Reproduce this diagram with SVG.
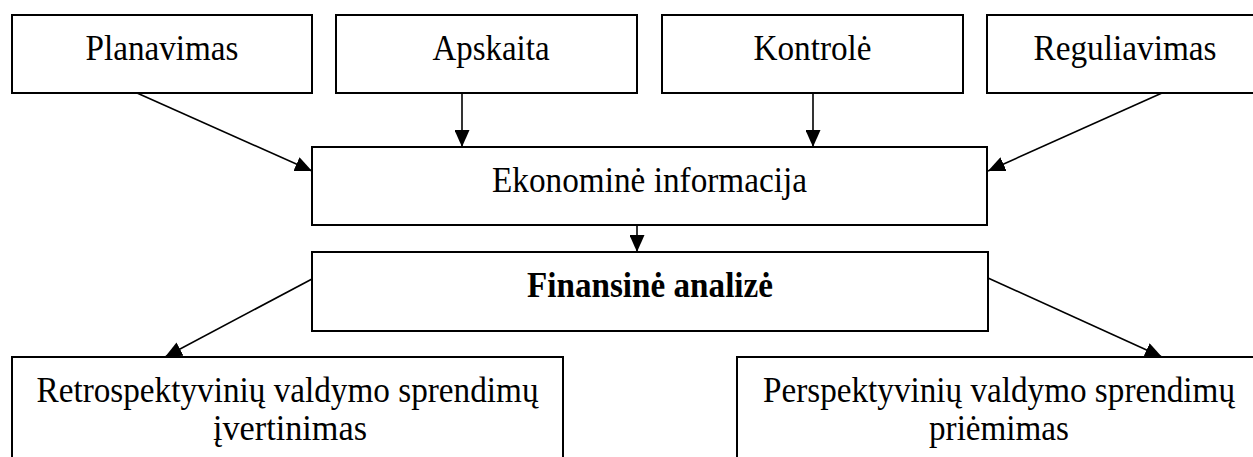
<svg xmlns="http://www.w3.org/2000/svg" width="1253" height="457" viewBox="0 0 1253 457">
<style>
.box{fill:#fff;stroke:#000;stroke-width:2}
.t{font-family:"Liberation Serif","Times New Roman",serif;font-size:36px;fill:#000;text-anchor:middle}
.b{font-weight:bold}
.c{stroke:#000;stroke-width:1.6;fill:none;marker-end:url(#ah)}
</style>
<defs>
<marker id="ah" markerUnits="userSpaceOnUse" markerWidth="17" markerHeight="15" refX="17" refY="7.5" orient="auto" viewBox="0 0 17 15">
<path d="M0,0 L17,7.5 L0,15 z" fill="#000"/>
</marker>
</defs>
<rect width="1253" height="457" fill="#fff"/>
<g id="connectors">
<line class="c" x1="137" y1="93" x2="312" y2="171"/>
<line class="c" x1="462" y1="93" x2="462" y2="147"/>
<line class="c" x1="813" y1="93" x2="813" y2="147"/>
<line class="c" x1="1162" y1="93" x2="988" y2="171"/>
<line class="c" x1="637" y1="225" x2="637" y2="252"/>
<line class="c" x1="312" y1="279" x2="165" y2="357"/>
<line class="c" x1="988" y1="278" x2="1162" y2="357"/>
</g>
<g id="planavimas">
<rect class="box" x="12" y="15" width="300" height="78"/>
<text class="t" x="162" y="60" textLength="153" lengthAdjust="spacingAndGlyphs">Planavimas</text>
</g>
<g id="apskaita">
<rect class="box" x="336" y="15" width="301" height="78"/>
<text class="t" x="491" y="60" textLength="117" lengthAdjust="spacingAndGlyphs">Apskaita</text>
</g>
<g id="kontrole">
<rect class="box" x="662" y="15" width="301" height="78"/>
<text class="t" x="812.5" y="60" textLength="118" lengthAdjust="spacingAndGlyphs">Kontrolė</text>
</g>
<g id="reguliavimas">
<rect class="box" x="987" y="15" width="280" height="78"/>
<text class="t" x="1125" y="60" textLength="183" lengthAdjust="spacingAndGlyphs">Reguliavimas</text>
</g>
<g id="ekonomine">
<rect class="box" x="312" y="147" width="675" height="78"/>
<text class="t" x="649.5" y="192" textLength="315" lengthAdjust="spacingAndGlyphs">Ekonominė informacija</text>
</g>
<g id="finansine">
<rect class="box" x="312" y="252" width="676" height="79"/>
<text class="t b" x="650" y="297" textLength="246" lengthAdjust="spacingAndGlyphs">Finansinė analizė</text>
</g>
<g id="retrospektyviniu">
<rect class="box" x="12" y="357" width="551" height="120"/>
<text class="t" x="287.5" y="402" textLength="502" lengthAdjust="spacingAndGlyphs">Retrospektyvinių valdymo sprendimų</text>
<text class="t" x="290" y="440" textLength="154" lengthAdjust="spacingAndGlyphs">įvertinimas</text>
</g>
<g id="perspektyviniu">
<rect class="box" x="737" y="357" width="540" height="120"/>
<text class="t" x="999" y="402" textLength="472" lengthAdjust="spacingAndGlyphs">Perspektyvinių valdymo sprendimų</text>
<text class="t" x="999" y="440" textLength="140" lengthAdjust="spacingAndGlyphs">priėmimas</text>
</g>
</svg>
